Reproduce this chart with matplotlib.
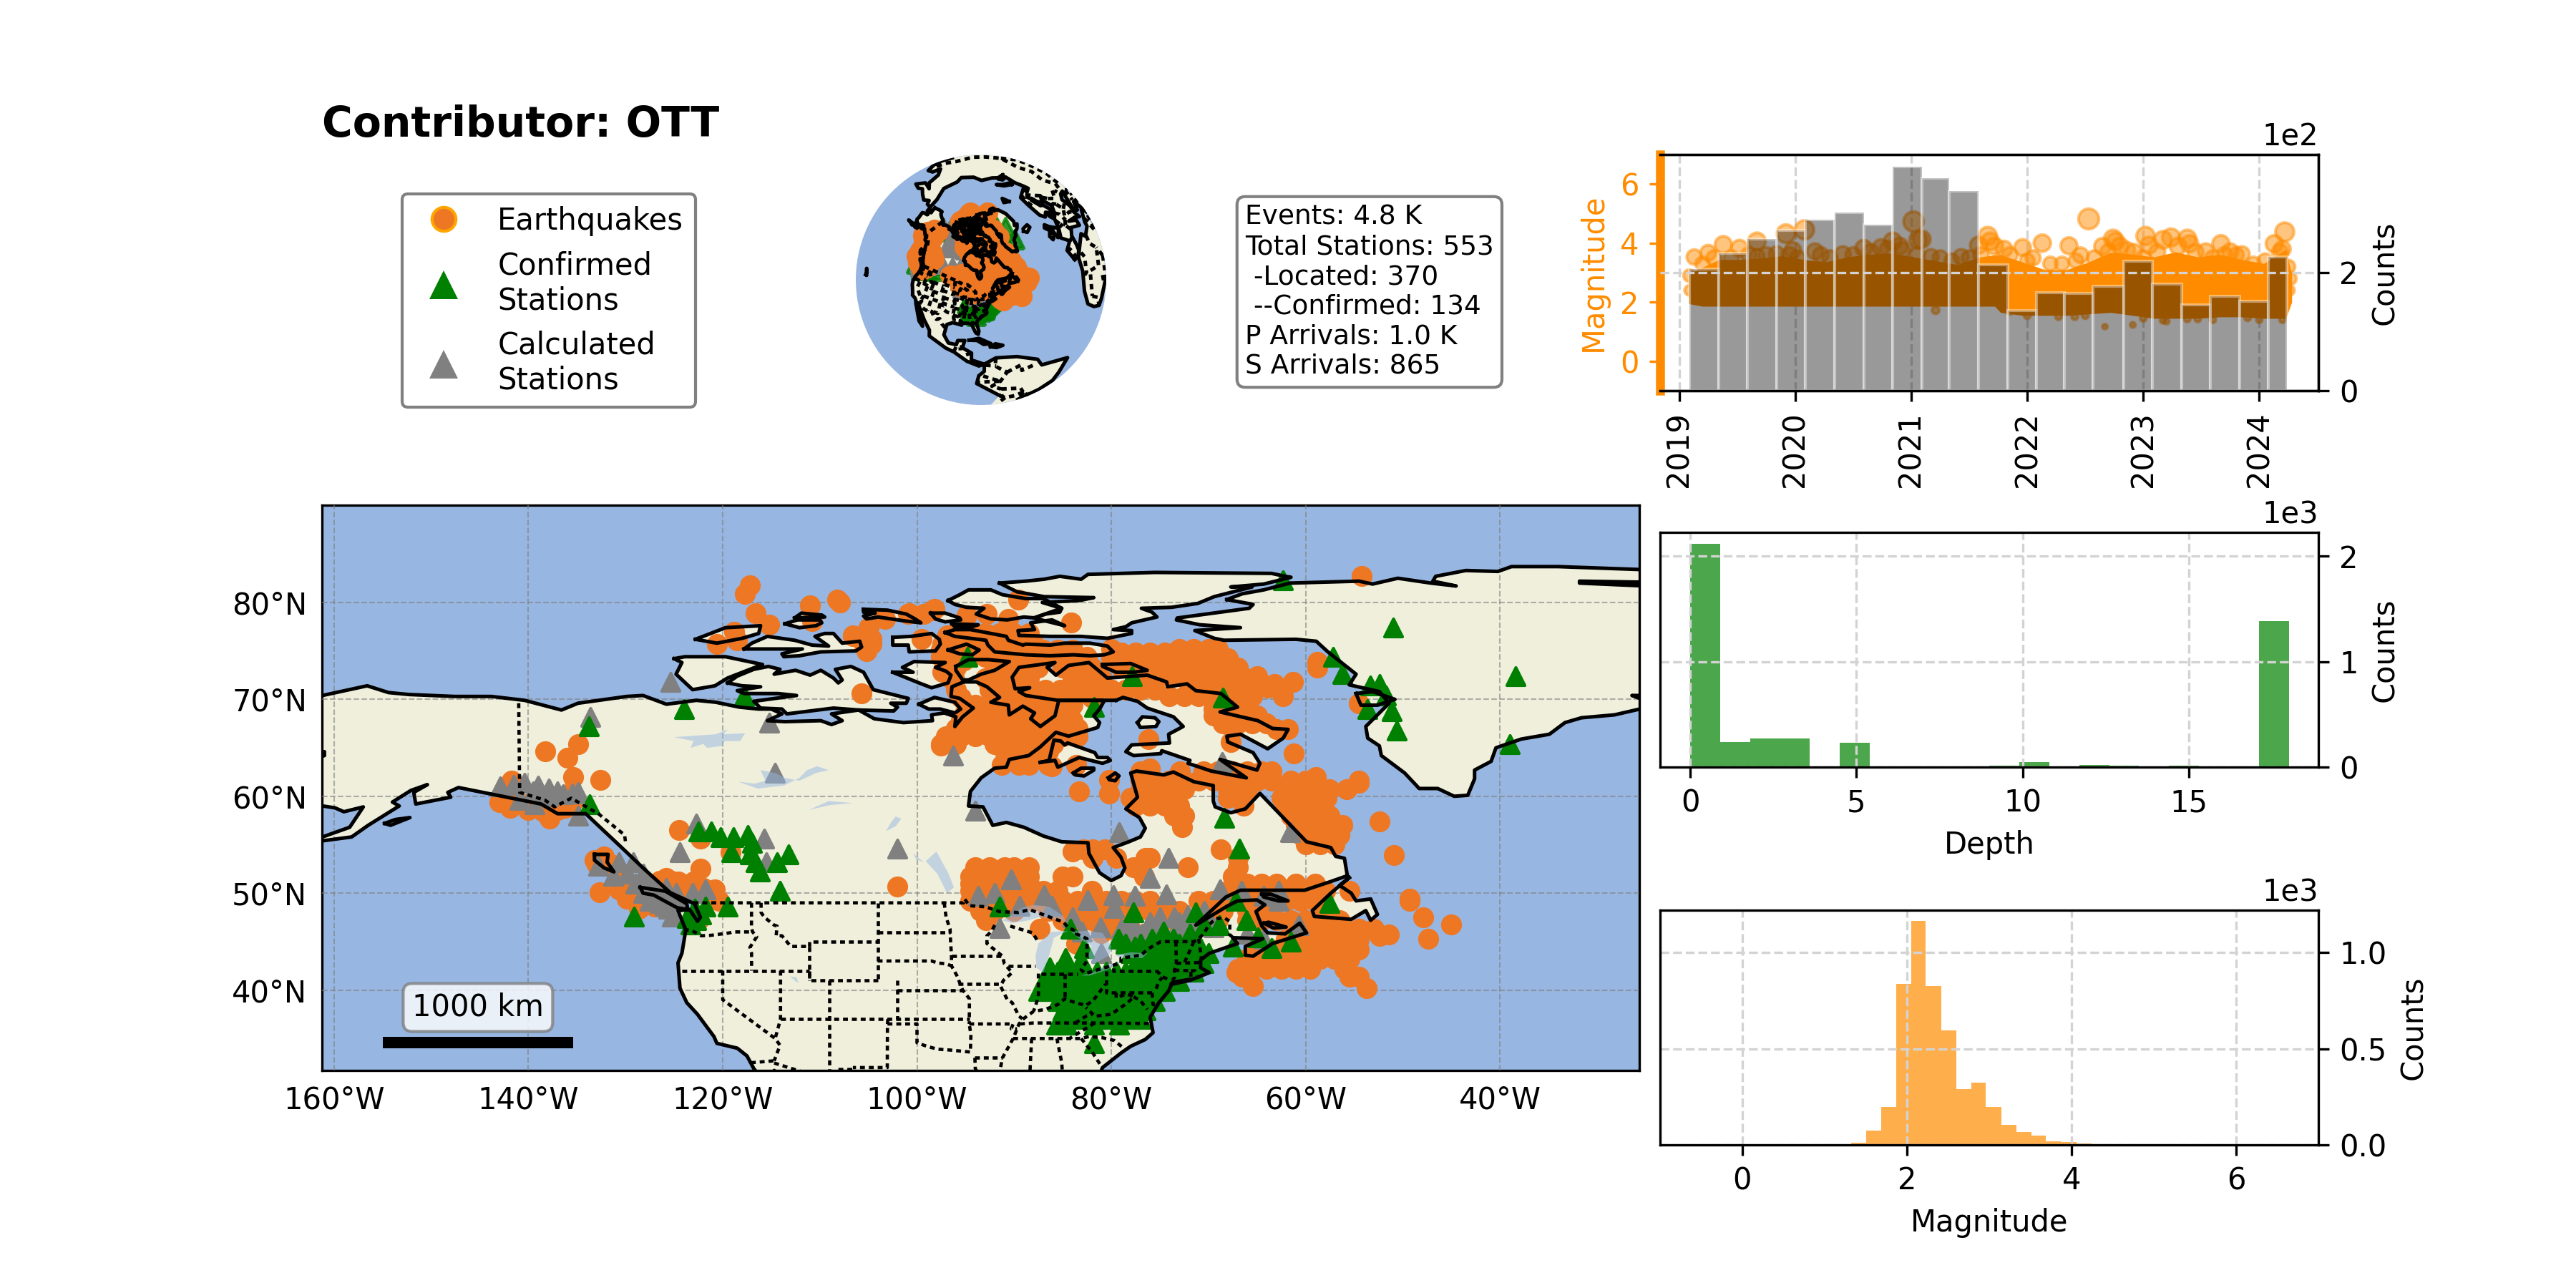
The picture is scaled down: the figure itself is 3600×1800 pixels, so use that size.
import numpy as np
import matplotlib
matplotlib.use("Agg")
import matplotlib.pyplot as plt
from matplotlib.lines import Line2D
from matplotlib.patches import Circle

# Colours
OCEAN = "#97b6e1"
LAND = "#efefdc"
QUAKE = "#ee7724"

# Coastlines as (lon, lat) rings
mainland = [(-166.8,68.4),(-161.2,70.4),(-156.6,71.4),(-154.4,70.7),(-152.3,70.5),(-147.6,70.3),(-143.8,70.3),
    (-140.4,69.9),(-136.6,68.9),(-134.9,69.6),(-129.9,70.3),(-128.2,70.4),(-125.8,69.5),(-122.7,69.9),(-120.7,69.7),
    (-118.3,69.2),(-116.3,69.0),(-115.0,69.0),(-113.9,68.5),(-115.4,67.8),(-113.6,67.7),(-109.9,67.8),(-108.8,67.4),
    (-107.7,67.8),(-108.8,68.5),(-106.0,68.9),(-104.4,68.0),(-101.4,67.6),(-98.4,67.8),(-98.5,68.4),(-97.2,68.6),
    (-96.0,68.2),(-96.1,67.2),(-95.3,68.2),(-94.2,69.1),(-95.6,70.1),(-96.5,70.3),(-96.4,71.3),(-95.2,71.8),
    (-93.9,71.8),(-92.8,71.3),(-91.5,70.2),(-92.4,69.7),(-90.6,69.4),(-90.5,68.4),(-89.1,69.3),(-87.9,68.6),
    (-88.3,68.0),(-87.3,67.2),(-85.8,68.3),(-85.4,69.9),(-83.4,69.9),(-80.7,69.9),(-81.2,69.0),(-81.8,68.3),
    (-81.2,67.6),(-81.4,67.1),(-84.4,66.2),(-85.7,66.6),(-87.3,65.1),(-88.5,64.2),(-90.5,63.8),(-90.8,63.0),
    (-92.0,62.9),(-93.4,61.9),(-94.5,60.5),(-94.7,59.0),(-93.2,58.9),(-92.2,57.0),(-90.8,57.3),(-89.0,56.8),
    (-87.0,55.9),(-85.1,55.3),(-82.4,55.2),(-82.3,54.1),(-81.2,52.1),(-80.0,51.3),(-79.0,51.8),(-78.6,52.6),
    (-79.0,53.7),(-79.8,54.7),(-78.2,55.3),(-77.0,55.8),(-76.5,56.7),(-77.1,57.8),(-78.5,58.7),(-77.3,59.9),
    (-78.0,62.4),(-77.4,62.6),(-74.6,62.2),(-73.6,62.5),(-71.5,61.5),(-69.5,61.1),(-69.5,59.5),(-69.3,58.9),
    (-67.7,58.3),(-66.2,58.7),(-64.7,60.3),(-59.9,55.3),(-57.4,54.7),(-56.9,53.8),(-56.0,53.6),(-55.7,51.8),
    (-57.4,51.2),(-60.1,50.3),(-66.7,50.3),(-68.2,49.6),(-71.3,46.7),(-68.0,48.7),(-67.0,49.2),(-65.0,49.3),
    (-64.2,48.8),(-65.1,48.1),(-64.5,46.6),(-63.9,45.9),(-62.1,45.8),(-60.6,46.9),(-59.9,45.9),(-63.4,44.8),
    (-65.4,43.5),(-66.2,43.6),(-66.2,44.5),(-64.4,45.3),(-67.5,45.4),(-67.0,44.8),(-69.9,43.8),(-70.8,43.1),
    (-70.8,42.3),(-69.9,41.8),(-71.9,41.0),(-73.8,40.6),(-74.1,39.9),(-75.1,38.7),(-76.0,37.2),(-75.7,35.6),
    (-76.5,34.9),(-78.0,34.2),(-79.0,33.5),(-80.9,32.0),(-81.4,30.7),(-80.1,26.8),(-80.4,25.2),(-81.7,25.9),
    (-82.8,27.9),(-84.0,30.0),(-86.0,30.4),(-89.5,30.0),(-89.2,29.1),(-94.0,29.6),(-97.0,28.0),(-97.7,22.5),
    (-95.0,18.8),(-91.0,18.7),(-90.5,21.0),(-87.0,21.5),(-88.0,17.5),(-83.5,15.0),(-83.5,11.0),(-79.5,9.5),
    (-77.5,8.6),(-80.0,7.5),(-85.5,10.0),(-92.0,14.5),(-96.0,15.7),(-105.0,19.5),(-105.5,22.5),(-109.5,26.5),
    (-112.8,30.0),(-114.7,31.7),(-112.0,27.0),(-109.5,23.0),(-112.0,24.7),(-115.0,29.5),(-116.8,31.9),(-117.5,33.2),
    (-118.5,34.0),(-120.6,34.5),(-120.9,35.2),(-122.6,37.5),(-123.7,38.7),(-124.4,40.2),(-124.6,42.8),(-124.2,43.8),
    (-123.8,46.2),(-124.6,48.2),(-123.4,48.3),(-122.6,47.1),(-122.3,47.5),(-122.9,48.9),(-125.4,50.05),(-128.2,52.6),
    (-130.5,54.8),(-132.2,56.4),(-134.1,58.2),(-137.0,58.2),(-138.7,59.2),(-141.7,59.8),(-147.2,60.9),(-148.3,60.4),
    (-148.0,59.9),(-151.6,59.2),(-151.8,60.4),(-150.4,61.2),(-152.1,60.6),(-154.0,59.4),(-153.3,59.0),(-156.5,57.0),
    (-158.2,55.8),(-159.7,55.6),(-161.2,55.4),(-164.5,54.6),(-161.2,55.8),(-158.4,56.8),(-157.0,58.9),(-159.0,58.4),
    (-159.9,58.8),(-161.2,59.0),(-162.0,60.0),(-165.0,61.5),(-166.0,62.0),(-164.5,63.0),(-161.0,64.2),(-161.0,64.6),
    (-166.0,64.6),(-168.0,65.6),(-164.0,66.5),(-161.5,66.3),(-163.5,67.0)]
greenland = [(-68.1,80.3),(-66.5,80.9),(-64.3,81.3),(-61.6,82.0),(-54.5,82.2),(-53.1,81.9),(-50.5,82.5),(-47.1,82.0),
    (-44.5,81.7),(-46.9,82.2),(-46.6,82.7),(-43.5,83.3),(-40.2,83.2),(-38.8,83.7),(-34.0,83.7),(-25.6,83.4),(-24.0,82.5),
    (-25.6,82.1),(-31.8,82.2),(-31.8,82.0),(-25.0,81.7),(-20.0,81.0),(-18.0,77.0),(-22.0,72.0),(-25.6,70.4),(-26.4,70.4),
    (-25.6,70.1),(-22.0,70.0),(-25.6,69.0),(-28.2,68.4),(-31.6,68.1),(-33.3,67.6),(-34.9,66.4),(-37.8,65.9),(-40.4,65.0),
    (-40.9,63.6),(-42.6,62.7),(-42.6,61.8),(-43.3,60.1),(-44.7,60.0),(-46.4,60.8),(-48.3,60.8),(-49.8,62.4),(-52.2,64.2),
    (-52.4,65.2),(-53.6,66.0),(-53.8,67.2),(-51.4,69.6),(-52.4,70.8),(-55.5,71.5),(-54.8,72.6),(-57.7,74.9),(-58.9,76.0),
    (-61.0,76.2),(-68.4,76.1),(-69.4,76.3),(-71.4,77.1),(-66.7,77.4),(-70.9,77.7),(-73.3,78.2),(-73.2,78.4),(-65.8,79.4),(-65.4,79.8)]
baffin = [(-79.5,69.9),(-78.8,70.2),(-77.3,69.8),(-76.3,69.1),(-73.6,68.2),(-72.6,67.2),(-74.1,66.4),(-74.0,65.5),(-77.9,65.3),
    (-78.5,64.6),(-77.7,64.2),(-74.9,64.4),(-74.8,64.7),(-71.9,63.7),(-72.1,63.4),(-69.7,62.6),(-66.1,61.9),(-68.8,63.8),
    (-65.0,62.7),(-64.7,63.4),(-65.4,64.5),(-68.0,65.6),(-68.1,66.2),(-66.7,66.4),(-63.9,64.9),(-62.3,66.0),(-61.8,66.9),
    (-63.4,67.0),(-64.9,67.8),(-68.8,68.7),(-67.0,69.2),(-68.7,70.6),(-71.3,70.9),(-72.2,71.6),(-74.2,71.3),(-74.3,71.8),
    (-76.3,72.5),(-80.4,72.2),(-82.3,73.8),(-84.4,73.5),(-85.7,72.5),(-86.6,73.3),(-85.8,73.8),(-89.5,73.3),(-90.2,72.3),
    (-89.9,71.1),(-88.4,71.2),(-89.5,70.8),(-88.8,70.4),(-85.5,69.9)]
ellesmere = [(-91.5,82.0),(-88.8,82.2),(-86.9,82.4),(-85.3,82.7),(-83.1,82.4),(-82.4,82.9),(-75.5,83.1),(-63.5,83.0),(-62.1,82.7),
    (-61.5,82.6),(-64.3,81.9),(-67.7,81.6),(-65.5,81.6),(-69.4,80.6),(-71.1,79.9),(-73.8,79.5),(-76.9,79.4),(-75.8,79.0),
    (-75.3,78.5),(-77.9,77.9),(-78.5,77.5),(-79.8,77.2),(-77.9,77.1),(-77.9,76.8),(-80.4,76.3),(-83.1,76.5),(-86.3,76.5),
    (-89.5,76.6),(-89.6,77.1),(-87.9,77.2),(-88.3,77.9),(-86.1,78.2),(-84.8,77.6),(-88.0,78.4),(-85.1,79.4),(-87.1,80.0),
    (-83.3,80.2),(-81.8,80.5),(-86.9,80.6),(-89.7,81.1)]
victoria = [(-119.5,71.7),(-118.5,72.4),(-116.8,73.1),(-115.3,73.4),(-114.1,73.1),(-114.7,72.6),(-112.5,73.0),(-111.0,72.5),
    (-109.9,73.0),(-108.6,72.2),(-108.1,71.7),(-107.7,72.0),(-108.4,73.1),(-106.8,73.4),(-105.5,72.8),(-104.5,71.0),
    (-100.9,70.1),(-101.1,69.6),(-102.7,69.6),(-102.0,69.2),(-102.4,68.8),(-106.0,68.9),(-108.6,69.1),(-113.4,68.5),
    (-113.9,69.0),(-116.1,69.1),(-116.8,69.8),(-112.4,70.4),(-114.3,70.6),(-117.8,70.6),(-118.5,70.9),(-116.1,71.3),(-118.0,71.4)]
banks = [(-125.0,74.2),(-123.9,74.4),(-119.7,74.4),(-115.9,73.6),(-119.5,72.2),(-120.8,71.4),(-123.1,71.0),(-124.8,72.6),(-124.2,73.8)]
melville = [(-117.8,75.2),(-117.0,75.8),(-115.4,76.5),(-112.6,76.1),(-110.8,75.6),(-109.1,75.5),(-110.5,76.5),(-109.5,76.8),
    (-108.6,76.8),(-107.7,75.8),(-105.9,76.0),(-105.7,75.4),(-106.3,75.0),(-109.9,74.9),(-112.1,74.5),(-113.7,74.4),
    (-113.9,74.7),(-111.8,75.2),(-117.0,75.2)]
prince_patrick = [(-122.8,76.2),(-119.7,77.4),(-116.1,77.6),(-116.3,76.8),(-118.0,76.3),(-120.6,75.8)]
mackenzie_king = [(-112.6,78.4),(-111.9,78.9),(-109.8,78.7),(-109.5,78.5)]
borden = [(-113.6,77.8),(-112.3,78.2),(-110.0,78.2),(-109.8,77.9),(-110.4,77.6),(-112.1,77.4)]
ellef = [(-105.5,79.3),(-103.0,79.2),(-101.1,78.8),(-100.2,78.3),(-99.6,77.9),(-101.3,78.1),(-104.0,78.5),(-105.2,78.3),
    (-105.5,78.6),(-104.3,78.9),(-105.5,79.0)]
meighen = [(-98.6,78.9),(-97.1,78.9),(-95.6,78.4),(-95.5,78.2),(-97.1,78.0),(-98.1,78.3)]
bathurst = [(-102.5,76.4),(-100.6,76.5),(-98.5,76.8),(-97.7,76.2),(-97.6,75.7),(-98.1,75.0),(-100.8,74.9),(-100.9,75.6),(-102.5,75.6)]
prince_wales = [(-102.5,72.8),(-100.4,72.8),(-101.5,73.3),(-100.3,73.9),(-97.1,73.8),(-98.1,73.3),(-97.0,72.9),(-96.5,72.5),
    (-96.8,71.7),(-98.5,71.2),(-99.8,71.7)]
king_william = [(-99.8,69.5),(-98.2,70.2),(-96.1,69.7),(-95.5,69.0),(-96.1,68.6),(-97.6,69.0),(-98.8,69.0)]
somerset = [(-96.0,73.4),(-94.7,74.1),(-92.7,74.1),(-90.5,73.9),(-92.0,73.0),(-93.4,72.6),(-94.7,72.0),(-95.3,72.0),(-96.0,73.0)]
russell = [(-96.8,75.1),(-94.9,75.7),(-93.6,75.1),(-94.3,74.6),(-95.6,74.7)]
devon = [(-97.1,76.9),(-96.1,77.2),(-94.5,77.2),(-90.8,76.5),(-90.6,76.1),(-89.1,75.6),(-88.8,75.7),(-86.3,75.6),(-84.8,75.8),
    (-82.2,75.8),(-80.4,75.5),(-79.8,74.9),(-80.7,74.6),(-82.2,74.5),(-83.9,74.6),(-86.3,74.5),(-88.8,74.6),(-92.0,74.9),
    (-92.7,75.6),(-92.9,76.1),(-96.1,76.5)]
axel_heiberg = [(-96.8,80.2),(-95.6,80.8),(-94.7,81.3),(-92.4,81.3),(-91.2,80.8),(-88.8,80.4),(-87.0,80.4),(-85.1,79.4),(-85.3,79.0),
    (-86.8,78.8),(-87.8,78.4),(-89.0,78.5),(-90.7,78.2),(-92.4,78.3),(-93.9,78.8),(-93.1,79.4),(-94.9,79.5),(-96.1,79.8)]
north_kent = [(-96.4,77.8),(-93.7,77.7),(-94.7,77.4),(-96.1,77.5)]
bylot = [(-80.9,73.6),(-78.0,73.7),(-76.3,73.0),(-77.7,72.8),(-79.5,72.8),(-80.9,73.4)]
southampton = [(-87.3,63.5),(-86.4,63.7),(-85.9,65.8),(-85.2,65.7),(-84.8,65.3),(-84.5,65.5),(-81.7,64.5),(-81.4,64.0),(-80.4,64.0),
    (-80.1,63.7),(-80.9,63.4),(-83.3,64.0),(-85.5,63.0),(-85.8,63.7)]
coats = [(-83.9,62.4),(-83.1,62.9),(-81.8,62.9),(-81.8,62.7),(-82.8,62.1),(-83.7,62.2)]
mansel = [(-80.3,61.9),(-79.6,62.4),(-79.2,62.1),(-79.6,61.6),(-80.2,61.7)]
prince_charles = [(-77.3,67.6),(-76.8,68.2),(-75.5,68.1),(-75.1,67.7),(-75.4,67.2),(-77.0,67.1)]
disko = [(-54.8,70.6),(-53.1,70.8),(-50.8,70.0),(-52.6,69.4),(-54.3,69.4)]
vancouver = [(-128.5,50.6),(-125.9,50.2),(-123.7,48.9),(-123.6,48.3),(-124.7,48.5),(-127.1,49.8),(-128.2,50.0)]
haida_gwaii = [(-133.2,54.0),(-131.8,54.0),(-131.9,53.2),(-131.2,52.2),(-132.2,52.6),(-133.2,53.4)]
kodiak = [(-154.8,57.2),(-153.7,57.6),(-152.2,57.8),(-154.2,57.0)]
newfoundland = [(-55.5,51.6),(-57.4,50.0),(-59.3,48.2),(-59.1,47.6),(-55.3,47.3),(-53.8,48.2),(-53.3,47.2),(-52.6,47.8),(-53.3,49.4),
    (-54.8,49.2),(-55.3,50.0),(-56.5,50.8)]
anticosti = [(-64.5,49.9),(-63.6,49.9),(-61.8,49.2),(-62.8,49.2),(-64.3,49.6)]
pei = [(-64.3,46.9),(-63.8,47.0),(-62.0,46.5),(-63.3,46.4)]
long_island = [(-73.8,40.6),(-71.9,41.1),(-73.7,40.8)]
south_america = [(-77.5,8.6),(-72,12),(-62,10.7),(-52,5),(-50,0),(-35,-6),(-39,-15),(-41,-22),(-48,-26),(-58,-35),(-65,-42),(-69,-52),
    (-74,-52),(-73,-40),(-70,-18),(-81,-5),(-80,1),(-77.5,4)]
africa = [(-6,35.5),(10,37),(11,33.5),(20,31),(22,32.5),(32,31),(34,28),(37,21),(43,11.5),(51,11.8),(40,-2),(39,-8),(40,-16),(35,-24),
    (28,-33),(19,-34.5),(12,-17),(13,-6),(9,4),(-4,5),(-8,4.4),(-13,9),(-17,14.7),(-16,22),(-10,29.5)]
eurasia = [(-9.5,37),(-9,43),(-1.5,43.5),(-4.5,48.5),(1.5,51),(8,54),(8.5,57),(10.5,57.7),(10,54),(14,54),(21,55),(24,59.5),(30,60),(22,60),
    (21.5,63),(25,65.5),(22,65.8),(17,61.5),(18.5,60),(16.5,56.5),(13,55.5),(11,59),(5.5,59),(5,62),(14,68),(25,71),(41,67),(34,66.5),(40,64.5),
    (44,66),(53,68.7),(68,69),(67,72),(73,72.8),(73,68),(75,72),(83,73.5),(100,76.5),(113,73.5),(130,71),(140,72.5),(160,69.7),(180,69),(-170,66),
    (-175,64.5),(-180,65),(178,62),(170,60),(163,58),(162,55),(156.7,51),(155.5,57),(163,62),(155,59.3),(143,59.3),(135,54.7),(141,53),(140,48),
    (132,43),(127,39.5),(129,36),(126,34.5),(126,37.5),(121,39),(118,38),(122,37),(120,34),(122,30),(119,25),(110,21),(106,19),(109,13),(105,9),
    (100,13),(104,2),(101,3),(98,8),(97,16),(92,21),(87,21.5),(80,15),(78,8),(73,17),(72,21),(67,25),(57,25),(50,30),(51,25),(56,24),(59,22),(52,16),
    (44,12.7),(39,21),(34.5,28),(35,36),(28,36.5),(26,40),(29,41),(41,41.5),(37,45),(31,46.5),(28,42),(24,40.5),(23,36.5),(19.5,41),(13,45.5),(18,40),
    (15.5,38),(9,44),(3,43),(0,39),(-2,36.8),(-5.5,36)]
cuba = [(-84.9,21.9),(-80,23.1),(-74.2,20.2),(-77.7,19.9),(-81,22)]
hispaniola = [(-74.4,18.5),(-72,19.9),(-68.4,18.6),(-71.5,17.8)]
iceland = [(-24,65.5),(-22,66.4),(-14.5,66),(-15,64.3),(-22,63.9)]
britain = [(-5.5,50),(1.5,51.2),(0,53.5),(-2,56),(-3,58.6),(-6,58),(-5,55),(-3,54),(-5,52)]
ireland = [(-10,52),(-6,52.2),(-6,55),(-10,54)]
svalbard = [(15,77),(24,80),(10,79.5)]
novaya_zemlya = [(52,71),(56,75),(68,77),(60,75),(56,71)]
hawaii = [(-155.9,19.2),(-155.0,19.7),(-155.9,20.2),(-156.4,20.9),(-157.9,21.5),(-155.9,20.0)]

north_america_rings = [mainland, greenland, baffin, ellesmere, victoria, banks, melville, prince_patrick, mackenzie_king, borden, ellef,
    meighen, bathurst, prince_wales, king_william, somerset, russell, devon, axel_heiberg, north_kent, bylot, southampton, coats, mansel,
    prince_charles, disko, vancouver, haida_gwaii, kodiak, newfoundland, anticosti, pei, long_island]
far_rings = [south_america, africa, eurasia, cuba, hispaniola, iceland, britain, ireland, svalbard, novaya_zemlya, hawaii]

# Large lakes
great_bear = [(-125,66.1),(-120.7,66.4),(-119.5,66.9),(-119.9,66.4),(-117.7,66.5),(-118.2,65.7),(-119.8,65.7),(-120.0,65.2),(-121.6,65.0),
    (-122.0,65.4),(-123.3,65.0),(-123.0,65.7)]
great_slave = [(-118.4,61.5),(-116.4,60.8),(-113.7,61.1),(-112.1,61.9),(-111.3,62.7),(-110.3,63.1),(-109.1,62.7),(-110.4,62.4),(-112.1,61.6),
    (-113.6,61.9),(-114.6,62.4),(-116.1,62.7),(-115.6,61.6),(-116.7,61.3)]
athabasca = [(-111.1,58.6),(-109.1,59.5),(-106.6,59.3),(-108.9,59.1)]
reindeer = [(-103.2,56.4),(-102.6,57.4),(-102.2,57.9),(-101.6,57.7),(-102.2,56.9)]
winnipeg = [(-99.1,53.3),(-98.0,54.3),(-96.8,52.1),(-96.2,50.6),(-96.9,50.0),(-97.9,52.0)]
manitoba = [(-100.4,54.1),(-99.3,53.2),(-100.1,53.5)]
great_salt = [(-113.1,41.4),(-112.4,41.3),(-112.2,40.7)]
superior = [(-91.2,47.2),(-89.1,48.5),(-88.0,48.8),(-86.4,48.6),(-85.0,47.7),(-84.7,47.1),(-86.4,47.4),(-87.5,47.5),(-88.5,47.2),(-90.2,46.9)]
michigan = [(-87.5,44.8),(-86.2,46.0),(-84.5,46.1),(-85.9,45.4),(-86.4,43.6),(-87.0,41.8),(-87.7,42.3),(-87.8,43.6)]
huron = [(-84.1,46.0),(-82.6,46.1),(-80.9,45.9),(-80.0,44.5),(-80.2,43.6),(-81.9,42.6),(-82.4,43.6),(-82.0,44.5),(-83.4,45.4)]
erie = [(-83.1,41.5),(-81.9,41.8),(-80.4,42.6),(-78.8,43.0),(-80.4,42.1),(-82.2,41.5)]
ontario = [(-79.6,43.6),(-78.0,43.9),(-76.3,43.8),(-76.8,43.3),(-79.0,43.3)]
lakes = [great_bear, great_slave, athabasca, reindeer, winnipeg, manitoba, great_salt, superior, michigan, huron, erie, ontario]

# Country and state boundaries
alaska_border = [(-141,69.6),(-140.9,60.4),(-138.3,59.6),(-137.3,58.9),(-135.6,59.8),(-132.8,58.2),(-130.1,56.0),(-130,55.2)]
canada_border = [(-123,49),(-95.2,49),(-95.1,49.4),(-94.6,48.7),(-93,48.6),(-91.5,48.1),(-89.6,48),(-88.4,48.3),(-84.9,47),(-84.5,46.5),(-83.5,46),
    (-83.6,45.8),(-82.5,45.3),(-82.5,43),(-83.1,42.1),(-82.7,41.7),(-79,42.8),(-79,43.3),(-76.9,43.6),(-76.3,44.2),(-74.9,45),(-71.5,45),(-71,45.3),
    (-70.4,45.9),(-70,46.7),(-69.2,47.4),(-68.3,47.4),(-67.8,47.1),(-67.8,45.7),(-67.1,45.1)]
mexico_border = [(-117.1,32.5),(-114.7,32.7),(-114.8,32.5),(-111,31.3),(-108.2,31.3),(-108.2,31.8),(-106.5,31.8),(-104.5,29.6),(-103,29),(-101.4,29.8),
    (-99.5,27.5),(-97.2,25.9)]
state_lines = [
    [(-124,46.25),(-123.2,46.15),(-122.2,45.6),(-121.2,45.65),(-119.3,45.9),(-118.98,46),(-116.92,46)],
    [(-117.03,49),(-117.04,46.4),(-116.92,46),(-116.5,45.5),(-117.2,44.4),(-117.03,43.8),(-117.03,42)],
    [(-116.05,49),(-116.05,48),(-115.7,47.5),(-114.7,46.7),(-114.4,46.6),(-114.5,45.6),(-113.9,45.6),(-113,44.5),(-111.05,44.5)],
    [(-111.05,44.5),(-111.05,45),(-104.05,45)],
    [(-111.05,44.5),(-111.05,41),(-104.05,41)],
    [(-104.05,49),(-104.05,41)],
    [(-104.05,45.94),(-96.56,45.94)],
    [(-104.05,43),(-98.5,43),(-97.9,42.8),(-97,42.7),(-96.45,42.5)],
    [(-102.05,41),(-102.05,37)],
    [(-102.05,40),(-95.3,40)],
    [(-114.05,37),(-94.62,37)],
    [(-103,37),(-103.04,36.5),(-103.06,32),(-106.6,32)],
    [(-103.04,36.5),(-100,36.5),(-100,34.56),(-99,34.2),(-97.9,33.9),(-96.5,33.8),(-94.5,33.6),(-94.45,35.4),(-94.62,36.5)],
    [(-109.05,41),(-109.05,31.3)],
    [(-111.05,42),(-111.05,41)],
    [(-114.05,42),(-114.05,37),(-114.6,35)],
    [(-120,42),(-120,39),(-114.6,35),(-114.1,34.3),(-114.7,32.7)],
    [(-124.2,42),(-111.05,42)],
    [(-97.2,49),(-97,47.5),(-96.6,46.3),(-96.56,45.4),(-96.45,43.5),(-96.45,42.5),(-95.9,41.5),(-95.3,40),(-94.6,39.1),(-94.62,36.5)],
    [(-96.45,43.5),(-91.2,43.5)],
    [(-95.8,40.6),(-91.4,40.6)],
    [(-92,46.7),(-92.3,46.1),(-92.8,45.6),(-92.8,44.8),(-91.2,43.5),(-91,42.7),(-90.2,41.8),(-91.1,41),(-91.4,40.4),(-90.7,39),(-90.2,38.7),(-89.5,37.3),
     (-89.1,37),(-89.5,36.5),(-90.1,35),(-91.2,33),(-91.6,31),(-89.7,31),(-89.6,30.2)],
    [(-94.62,36.5),(-90.1,36.5),(-90.3,36),(-89.7,36)],
    [(-94.04,33),(-91.2,33)],
    [(-94.04,33),(-94,31.9),(-93.5,31),(-93.8,29.7)],
    [(-90.6,42.5),(-87.8,42.5)],
    [(-90.4,46.6),(-88.1,45.9),(-87.6,45.1)],
    [(-87.5,41.7),(-87.5,39.3),(-88,37.8)],
    [(-84.8,41.7),(-84.8,39.1)],
    [(-87.2,41.7),(-83.5,41.7)],
    [(-89.1,37),(-88,37.8),(-86.8,38),(-85.5,38.5),(-84.8,39.1),(-84,38.8),(-82.6,38.4),(-81.8,39),(-80.6,40.6)],
    [(-80.52,42),(-80.52,39.72),(-75.8,39.72)],
    [(-79.76,42.27),(-79.76,42),(-75.35,42)],
    [(-79.5,39.72),(-79.5,39.2),(-78.4,39.6),(-77.7,39.3),(-78.3,38.7),(-80,37.5),(-81.7,37.3),(-82.6,38.2)],
    [(-77.7,39.3),(-77,38.9),(-76.3,38)],
    [(-89.4,36.5),(-88,36.6),(-83.7,36.6),(-81.7,36.6),(-75.9,36.55)],
    [(-83.7,36.6),(-82.6,37.3),(-81.97,37.5)],
    [(-81.7,36.6),(-84.3,35)],
    [(-90.1,35),(-84.3,35),(-83.1,35),(-82.3,35.2),(-81,35.1),(-79.7,34.8),(-78.6,33.9)],
    [(-83.1,35),(-81.9,33.5),(-81,32.1)],
    [(-85.6,35),(-85.1,32.5),(-85,31),(-82,30.4)],
    [(-88.2,35),(-88.4,31),(-88.4,30.3)],
    [(-73.35,45),(-73.3,42.75),(-73.5,42.05),(-73.5,41.3),(-73.7,41)],
    [(-71.5,45),(-72.5,42.75)],
    [(-73.3,42.75),(-70.8,42.85)],
    [(-73.5,42.05),(-71.8,42),(-71.8,41.3)],
    [(-71.8,42),(-71.4,42),(-71.2,41.5)],
    [(-71,45.3),(-70.7,43.1)],
    [(-75.35,42),(-74.7,41.35),(-75.1,40.9),(-75.5,39.8)],
    [(-74.7,41.35),(-73.9,41)],
    [(-75.8,39.72),(-75.7,38.5),(-75.05,38.45)],
]
world_borders = [
    [(-72,12),(-72.5,7),(-67,2),(-70,-4),(-74,-7.5),(-69.5,-11),(-69,-17),(-70,-18.3)],[(-67,2),(-60,5),(-60,1),(-54,2.2)],
    [(-69.5,-11),(-60,-14),(-58,-20),(-54.5,-25.5),(-53.5,-33.7)],[(-58,-20),(-62,-22),(-67,-22),(-70,-18)],[(-67,-22),(-70,-33),(-72,-50)],
    [(-58,-20),(-58,-27),(-54.5,-25.5)],[(-78,0.8),(-75,-1),(-70,-4),(-81,-4)],[(-77,8),(-72,7)],
    [(-1.8,43.4),(3,42.5)],[(-9,42),(-6.5,42),(-7,37.2)],[(2.5,51),(8,49),(7.5,44)],[(7,53.5),(6,50),(8,48)],[(14,54),(15,51),(12.5,47.5)],
    [(8,47.5),(16,48),(22,48),(24,52)],[(24,52),(23.5,54),(21,55)],[(28,56),(30,51.5),(40,49.7),(38,47)],[(22,48),(29,45.5)],[(19,46),(22,44),(23,41.5)],
    [(28,59.5),(28,56)],[(30,60),(30,69.5)],[(14,66),(20,69),(28,70)],[(24,66),(30,69.5)],
    [(48,46),(50,51),(61,51),(70,55),(87,49),(98,50),(107,50),(120,53),(127,50),(135,48),(131,43)],[(87,49),(80,42),(74,39),(61,36),(50,38)],
    [(48,42),(40,43)],[(44,37),(36,36.5)],[(44,37),(48,30)],[(36,32),(39,32),(46,29),(56,24)],[(61,36),(61,25)],[(74,39),(75,32),(70,25)],
    [(80,30),(88,27),(92,22)],[(98,28),(97,16)],[(108,22),(100,21),(105,15)],[(127,42),(130,43)],
    [(-2,35),(-2,32),(-8,27),(-13,27.5)],[(12,33),(9,30),(12,23),(4,19),(-5,25),(-12,15)],[(25,32),(25,20),(36,22)],[(25,20),(24,8),(15,13),(12,23)],
    [(4,12),(3,7)],[(-12,15),(-8,10),(-8,5)],[(15,13),(9,5)],[(34,9),(42,11)],[(24,8),(30,-1),(39,-4)],[(30,-1),(13,-5)],[(12,-17),(22,-18),(33,-17)],
    [(20,-28),(33,-25)],[(-92,14.5),(-91,17.8),(-89,17.9),(-88.9,15.9)],[(-83.7,15),(-87.5,13)],[(-83.6,11),(-82.5,9.3)],
]

# Earthquake epicentres
quake_lon = [-117.2,-117.7,-116.6,-115.2,-111.0,-110.8,-108.2,-107.9,-118.8,-118.5,-120.6,-105.7,-106.6,-105.0,-103.3,-104.7,-104.7,-105.2,
    -100.8,-99.3,-98.2,-99.5,-96.9,-97.1,-97.4,-94.9,-92.8,-90.6,-89.6,-92.4,-94.9,-89.1,-95.6,-93.7,-91.2,-89.3,-95.2,-97.4,-96.1,
    -84.1,-88.8,-80.0,-78.6,-61.3,-62.3,-63.9,-54.5,-61.2,-76.0,-76.2,-83.3,-80.2,-80.2,-83.6,-86.1,
    -67.1,-65.4,-53.7,-49.3,-47.9,-45.0,-47.4,-52.4,-51.4,-52.4,-50.9,-54.5,-58.9,-58.8,-58.8,-54.5,-54.2,
    -138.3,-134.9,-136.0,-135.4,-132.6,-141.7,-141.9,-138.5,-137.8,-136.6,-136.2,-124.5,-122.3,-119.2,-122.3,
    -133.2,-132.2,-132.7,-130.7,-129.9,-128.6,-129.4,-125.8,-124.6,-123.0,-120.8,-120.4,-122.5,-102.0,-97.5,-105.4,-106.6,-103.4,-100.9,-98.4,
    -72.7,-73.1,-77.4,-84.0,-83.6,-81.0]
quake_lat = [81.8,80.9,78.9,77.7,79.7,78.1,80.3,80.0,77.0,76.1,75.7,70.6,76.5,77.4,78.3,76.2,75.7,75.0,
    78.9,78.8,79.3,76.2,76.6,75.0,75.7,78.7,78.8,78.3,80.3,76.5,77.2,76.5,76.2,76.0,75.7,75.0,74.0,72.8,72.0,
    77.9,76.6,75.2,74.1,71.8,70.3,71.2,61.6,64.4,62.9,65.9,60.5,61.7,60.3,63.2,63.1,
    41.8,40.4,40.2,49.4,47.5,46.8,45.3,45.6,45.7,57.4,53.9,61.4,62.0,73.9,73.3,69.6,82.7,
    64.6,65.4,64.0,62.0,61.7,61.6,58.8,58.4,57.7,60.0,58.8,56.5,55.6,54.2,52.5,
    53.4,53.8,50.1,50.4,49.4,48.4,49.8,51.6,51.2,51.2,50.4,49.2,47.2,50.7,65.2,75.6,76.6,78.4,78.8,79.2,
    56.8,58.3,60.0,54.3,44.8,45.9]
# Dense parts of the catalogue, listed row by row as (lat, lons)
quake_rows = [
    (75.2,[-73.0,-71.5,-70.0,-69.0]),
    (74.8,[-79.0,-77.5,-76.0,-74.5,-73.0,-71.5,-70.0]),
    (74.2,[-80.0,-78.5,-77.0,-75.5,-74.0,-72.5,-71.0,-69.5,-68.0]),
    (73.3,[-79.0,-77.5,-76.0,-74.5,-73.0,-71.5,-70.0,-68.5,-67.0]),
    (72.4,[-77.0,-75.5,-74.0,-72.5,-71.0,-69.5,-68.0,-66.5,-65.0]),
    (71.6,[-72.0,-70.5,-69.0,-67.5,-66.0,-64.5,-63.2]),
    (71.0,[-80.0,-78.5,-77.0,-75.5]),
    (70.3,[-74.0,-72.5,-71.0,-69.5,-68.0,-66.5,-65.5]),
    (74.4,[-97.5,-96.0,-94.5,-93.0,-91.5,-90.0,-88.5,-87.0,-85.5,-84.0,-82.5]),
    (76.8,[-96.0,-94.5,-93.0,-91.5,-90.0,-88.5]),
    (75.8,[-97.0,-95.5,-94.0,-92.5,-91.0,-89.5,-88.0]),
    (75.1,[-97.5,-96.0,-94.5,-93.0,-91.5,-90.0,-88.5,-87.0,-85.5,-84.0]),
    (73.3,[-96.0,-92.0,-90.5,-89.0,-87.5,-85.0,-83.5,-82.0]),
    (72.2,[-96.5,-93.0,-91.5,-90.0,-88.5,-84.0,-82.5,-81.0]),
    (71.0,[-96.0,-92.5,-91.0,-89.5,-88.0,-86.8,-85.2,-84.0,-82.5,-81.5,-80.0]),
    (70.2,[-95.5,-90.0,-88.5,-87.0,-84.0,-82.0]),
    (69.4,[-94.0,-92.5,-91.0,-89.5,-88.0,-86.5,-85.2,-84.0]),
    (68.7,[-95.0,-93.5,-92.0,-90.5,-89.0,-87.5,-84.5]),
    (67.8,[-95.5,-94.0,-92.5,-91.0,-89.5,-87.5,-86.0,-84.0]),
    (67.0,[-96.0,-94.5,-93.0,-91.5,-90.0,-88.5,-87.0,-85.5,-83.5]),
    (66.2,[-97.0,-95.5,-94.0,-92.5,-91.0,-89.5,-88.0,-86.5,-85.0,-83.5]),
    (65.4,[-97.5,-96.0,-92.0,-90.5,-89.0,-87.5,-86.0]),
    (64.6,[-91.0,-89.5,-88.0,-86.5]),
    (63.8,[-90.0,-88.5,-87.0]),
    (63.2,[-91.3,-89.5,-88.5,-86.5]),
    (69.0,[-69.5,-68.0,-66.5]),
    (68.3,[-69.5,-68.0,-66.5,-65.0]),
    (67.5,[-68.5,-67.0,-65.5,-64.0]),
    (66.9,[-63.0,-61.8,-67.5]),
    (65.6,[-67.7]),
    (62.6,[-77.0,-72.9,-70.5,-69.0,-67.5,-66.0,-64.5,-63.5]),
    (61.6,[-77.0,-75.5,-74.0,-72.5,-71.0,-69.5,-68.2,-66.5,-65.0,-63.5,-61.5,-60.0,-58.9]),
    (60.7,[-77.0,-75.5,-74.0,-72.5,-68.0,-66.0,-62.0,-60.5,-59.2,-57.5,-55.8]),
    (59.8,[-78.0,-76.5,-75.0,-73.5,-68.0,-66.4,-62.5,-61.0,-59.5,-57.8]),
    (59.0,[-77.5,-76.0,-74.5,-73.0,-66.4,-62.0,-60.5,-59.0]),
    (58.0,[-73.5,-72.5,-61.5,-60.0,-58.5,-57.5]),
    (57.0,[-61.0,-59.5,-58.0,-57.0,-56.2]),
    (56.0,[-60.5,-59.0,-57.5,-56.5]),
    (55.0,[-60.0,-58.5,-57.0]),
    (54.5,[-82.9,-81.9,-80.7,-68.7]),
    (53.6,[-81.9,-79.5,-76.5,-76.0,-67.0]),
    (52.7,[-94.0,-92.5,-91.0,-90.0,-88.5,-77.7,-72.1,-67.0]),
    (51.7,[-94.5,-93.0,-91.5,-90.0,-88.5,-85.0,-84.0,-76.6,-67.5]),
    (51.0,[-94.5,-93.0,-91.5,-90.0,-88.5,-66.0,-64.5,-63.0,-61.0,-59.0]),
    (50.2,[-94.5,-93.0,-91.5,-90.0,-88.5,-87.0,-85.5,-82.0,-68.0,-66.5,-65.0,-63.5,-62.0,-60.5,-59.0,-58.0,-55.5]),
    (49.2,[-94.5,-93.0,-91.5,-90.0,-88.0,-86.5,-85.0,-83.5,-82.0,-80.5,-79.0,-77.5,-76.0,-71.0,-69.5,-68.0,-66.5,-65.0,-63.5,-62.0,-60.5,-59.0,-49.3]),
    (48.2,[-93.5,-92.0,-90.0,-86.5,-85.0,-83.5,-82.0,-80.5,-79.0,-77.5,-76.0,-74.5,-73.0,-70.0,-68.5,-66.0,-64.5]),
    (47.2,[-92.9,-85.0,-83.5,-82.0,-80.5,-79.0,-75.0,-73.5,-72.0,-70.5,-69.0,-66.0,-64.5,-63.0,-61.5,-60.0,-58.5,-57.0,-56.5]),
    (46.3,[-87.4,-80.0,-78.0,-60.5,-59.0,-57.5,-56.0,-54.5,-53.0]),
    (45.2,[-62.0,-60.5,-59.0,-57.5,-56.0,-54.5]),
    (44.2,[-65.0,-63.5,-62.0,-60.5,-59.0,-57.5,-56.0,-54.5]),
    (43.2,[-66.0,-64.5,-63.0,-61.5,-60.0,-58.5,-57.0,-55.5]),
    (42.2,[-67.0,-65.5,-64.0,-62.5,-61.0,-59.5,-56.0]),
    (41.4,[-66.5,-55.5,-54.5]),
    (53.0,[-133.0,-131.5]),
    (52.2,[-130.8]),
    (51.3,[-130.3,-126.5,-125.3]),
    (50.5,[-129.5,-127.5,-126.0,-124.0,-122.0]),
    (49.6,[-128.9,-121.0]),
    (48.6,[-128.4,-127.0]),
    (59.4,[-143.0,-141.0,-138.5,-135.5]),
    (58.6,[-140.0,-137.0]),
    (60.2,[-136.0]),
]

# Stations with confirmed locations
conf_lon = [-133.8,-124.0,-117.8,-133.7,-122.5,-121.2,-120.2,-118.9,-117.4,-117.0,-119.1,-117.2,-116.6,-116.2,-114.4,-113.2,-114.1,-129.1,
    -122.9,-121.8,-119.5,-123.3,-122.7,-123.7,-122.2,-62.3,-94.8,-77.9,-81.8,-68.5,-68.4,-66.8,-57.5,-51.0,-38.4,-39.0,-57.2,-56.2,-53.3,-52.4,
    -51.7,-53.6,-51.1,-50.6,-91.5,-77.7,-84.2,-67.2,-66.1,-64.9,-63.5,-61.5,-67.5,-68.9,-70.4,-71.3,-75.8,-74.6,-73.6,-71.9,-79.3,-77.6,
    -81.8,-84.7,-83.1,-86.3,-82.8]
conf_lat = [67.2,69.0,70.3,59.2,56.4,56.4,55.8,55.8,56.0,55.2,54.2,54.0,53.2,52.2,53.2,54.0,50.2,47.6,
    48.4,48.6,48.6,46.8,47.2,47.4,47.8,82.3,74.4,72.4,69.2,70.2,57.8,54.6,49.0,77.4,72.4,65.4,74.4,72.6,71.4,71.6,
    70.4,69.0,68.8,66.8,48.6,48.0,46.3,49.2,47.2,45.4,44.3,45.0,44.5,46.7,46.7,48.0,45.3,46.0,45.3,45.8,45.3,44.5,
    34.5,43.3,43.1,42.3,44.3]
# Dense network in the eastern states, (lat, lons)
conf_rows = [
    (44.8,[-78.5,-77.0,-76.0,-75.0,-74.0,-73.0,-72.0,-71.0]),
    (43.8,[-78.0,-77.0,-76.0,-75.0,-74.0,-73.0,-72.0,-71.0,-70.0]),
    (42.8,[-84.5,-83.0,-77.5,-76.5,-75.5,-74.5,-73.5,-72.5,-71.5,-70.5]),
    (41.9,[-86.5,-85.5,-84.5,-83.5,-82.5,-81.5,-80.5,-79.5,-78.5,-77.5,-76.5,-75.5,-74.5,-73.5,-72.5,-71.5]),
    (40.9,[-87.0,-86.0,-85.0,-84.0,-83.0,-82.0,-81.0,-80.0,-79.0,-78.0,-77.0,-76.0,-75.0,-74.0,-73.0]),
    (39.9,[-87.5,-86.5,-85.5,-84.5,-83.5,-82.5,-81.5,-80.5,-79.5,-78.5,-77.5,-76.5,-75.5,-74.5]),
    (38.9,[-85.5,-84.5,-83.5,-82.5,-81.5,-80.5,-79.5,-78.5,-77.5,-76.5,-75.5]),
    (37.9,[-85.0,-84.0,-83.0,-82.0,-80.5,-79.5,-78.5,-77.5,-76.5]),
    (37.0,[-85.0,-84.0,-83.0,-81.5,-80.0,-79.0,-78.0,-77.0]),
    (36.4,[-85.7,-84.6,-81.8,-79.2]),
]

# Stations with calculated locations
calc_lon = [-125.4,-133.6,-115.2,-114.6,-124.4,-102.0,-96.3,-122.7,-115.7,-115.5,-142.9,-140.4,-139.0,-137.9,-136.4,-134.9,-140.9,-139.4,-134.9,
    -132.8,-131.3,-130.7,-129.2,-128.2,-127.8,-127.5,-126.1,-125.6,-124.4,-123.1,-121.8,-125.2,-128.2,
    -93.7,-92.0,-90.3,-89.4,-86.9,-86.1,-91.5,-82.4,-79.8,-79.7,-77.6,-81.1,-79.0,-77.4,-75.9,-74.1,-76.0,-74.3,-72.1,-68.8,-66.6,-64.3,-62.8,
    -70.4,-60.7,-66.0,-81.0,-62.8,-76.8,-74.8,-64.3,-79.2,-61.6,-68.6,-94.0,-71.5,-69.5,-73.0,-75.0,-78.5,
    -78.0,-76.0,-75.0,-73.5,-72.5,-83.0,-84.0,-129.0,-127.0,-126.5,-125.8,-124.8,-126.0,-127.0,-129.8,-141.5,-138.0,-137.0,-135.5,-139.5]
calc_lat = [71.8,68.2,67.6,62.4,54.2,54.6,64.2,57.2,55.6,53.2,61.0,61.4,61.1,60.8,60.2,60.4,59.6,59.2,58.0,
    52.8,51.8,53.2,53.2,52.0,50.8,49.2,49.6,48.4,49.2,50.0,50.4,47.6,50.0,
    49.7,50.0,51.4,48.7,49.8,48.7,46.4,49.3,49.8,48.5,49.7,46.5,46.3,46.0,46.5,53.6,51.6,49.9,47.7,50.4,50.2,49.7,50.2,
    48.2,46.7,45.8,43.8,49.2,45.8,46.0,45.3,56.3,56.3,63.5,58.5,46.8,46.5,47.0,46.8,45.0,
    47.0,47.0,47.5,47.5,46.5,46.0,47.5,51.0,50.5,49.0,50.5,50.0,48.7,49.5,52.0,61.2,60.0,60.5,60.3,60.5]

# Scale bar
scale_lon = [-155.0, -135.4]
scale_lat = [34.6, 34.6]

# Time series: quarterly bins and the envelope of the dense part of the catalogue
count_edges = [2019.09,2019.34,2019.59,2019.84,2020.09,2020.34,2020.59,2020.84,2021.09,2021.33,2021.58,2021.83,2022.08,2022.32,2022.57,
    2022.83,2023.08,2023.33,2023.58,2023.83,2024.08,2024.24]
count_values = [206,232,256,271,289,301,280,379,359,337,213,135,166,164,177,219,180,145,160,151,226]
band_time = [2019.08,2019.20,2019.34,2019.51,2019.70,2019.89,2020.08,2020.26,2020.45,2020.64,2020.83,2021.02,2021.21,2021.40,2021.58,2021.72,2021.77,
    2021.96,2022.15,2022.34,2022.53,2022.72,2022.91,2023.09,2023.28,2023.47,2023.66,2023.85,2024.04,2024.23,2024.28]
band_high = [2.94,3.18,3.44,3.44,3.49,3.57,3.44,3.36,3.53,3.62,3.66,3.53,3.40,3.27,3.52,3.60,3.60,3.36,3.10,3.10,3.36,3.69,3.62,3.53,3.70,3.53,3.62,3.44,3.31,3.79,2.94]
band_low = [1.95,1.86,1.86,1.86,1.86,1.86,1.86,1.86,1.86,1.86,1.86,1.86,1.86,1.86,1.86,1.86,1.65,1.55,1.55,1.55,1.60,1.65,1.55,1.45,1.45,1.45,1.50,1.50,1.45,1.45,2.00]
event_time = [2019.13,2019.25,2019.38,2019.52,2019.67,2019.92,2020.08,2019.98,2019.67,2019.84,2020.17,2020.41,2020.59,2020.74,2020.84,2020.92,
    2021.02,2021.09,2021.06,2021.17,2021.43,2021.66,2021.68,2021.58,2021.80,2021.96,2022.13,2022.36,2022.46,2022.53,2022.65,2022.76,2022.74,2022.86,
    2023.02,2023.05,2023.17,2023.24,2023.38,2023.40,2023.54,2023.67,2023.75,2023.85,2024.13,2024.22,2024.20,
    2021.21,2022.67,2022.91,2022.27,2022.41,2023.17,2023.38,2023.47,2023.90,
    2019.20,2019.30,2019.45,2019.60,2019.75,2019.95,2020.02,2020.22,2020.30,2020.50,2020.65,2020.80,2020.90,2021.05,2021.25,2021.35,2021.50,2021.60,
    2021.72,2021.85,2022.00,2022.05,2022.20,2022.30,2022.42,2022.58,2022.70,2022.80,2022.92,2023.00,2023.12,2023.30,2023.45,2023.60,2023.70,2023.80,
    2023.95,2024.05,2024.18,2024.25,2019.09,2019.09,2024.26,2024.27,2021.85,2022.00,2022.50,2023.00,2023.20,2023.60,2024.00,2024.20]
event_mag = [3.53,3.67,3.95,3.83,4.06,4.32,4.45,3.76,3.54,3.63,3.72,3.63,3.83,3.85,4.06,3.76,
    4.73,4.13,4.11,3.54,3.54,4.24,4.06,3.93,3.80,3.85,4.00,3.91,3.59,4.82,3.89,4.06,4.15,3.76,
    4.24,3.93,4.11,4.19,4.15,3.98,3.72,3.98,3.72,3.63,3.98,4.38,3.80,
    1.73,1.17,1.23,1.51,1.51,1.38,1.43,1.43,1.47,
    3.30,3.50,3.50,3.60,3.60,3.60,3.50,3.60,3.50,3.60,3.70,3.80,3.90,3.60,3.50,3.40,3.50,3.60,
    3.90,3.60,3.40,3.50,3.30,3.30,3.40,3.50,3.70,3.90,3.70,3.50,3.70,3.90,3.70,3.50,3.60,3.60,
    3.30,3.40,3.70,3.20,2.40,2.90,2.40,2.80,1.70,1.55,1.55,1.45,1.35,1.40,1.40,1.40]
year_ticks = [2019, 2020, 2021, 2022, 2023, 2024]

# Histograms
depth_edges = [0.0,0.9,1.8,2.7,3.6,4.5,5.4,6.3,7.2,8.1,9.0,9.9,10.8,11.7,12.6,13.5,14.4,15.3,16.2,17.1,18.0]
depth_counts = [2117,239,272,272,0,232,0,0,0,0,16,50,0,22,16,0,16,8,8,1387]
mag_edges = [1.32,1.50,1.69,1.87,2.05,2.23,2.42,2.60,2.78,2.96,3.15,3.33,3.51,3.69,3.87,4.06,4.24]
mag_counts = [12,73,199,838,1165,827,597,292,325,199,106,66,47,17,14,6]

# Globe centre
globe_lon0 = -79.0
globe_lat0 = 51.0


def box(left, top, right, bottom):
    # axes rectangle from pixel edges, with y counted from the top
    return [left/3600, 1-bottom/1800, (right-left)/3600, (bottom-top)/1800]


def ortho(lon, lat):
    # orthographic projection; points behind the globe get visible=False
    lam = np.radians(np.asarray(lon, dtype=float)-globe_lon0)
    phi = np.radians(np.asarray(lat, dtype=float))
    phi0 = np.radians(globe_lat0)
    x = np.cos(phi)*np.sin(lam)
    y = np.cos(phi0)*np.sin(phi)-np.sin(phi0)*np.cos(phi)*np.cos(lam)
    visible = np.sin(phi0)*np.sin(phi)+np.cos(phi0)*np.cos(phi)*np.cos(lam) >= 0
    return x, y, visible


def ring_xy(ring, closed=True):
    pts = ring + ring[:1] if closed else ring
    return [p[0] for p in pts], [p[1] for p in pts]


def expand_rows(rows):
    lons, lats = [], []
    for lat, row in rows:
        lons += row
        lats += [lat]*len(row)
    return lons, lats


row_lon, row_lat = expand_rows(quake_rows)
all_quake_lon = quake_lon+row_lon
all_quake_lat = quake_lat+row_lat
row_lon, row_lat = expand_rows(conf_rows)
all_conf_lon = conf_lon+row_lon
all_conf_lat = conf_lat+row_lat

BORDER_DASH = (0, (1.5, 1.2))

fig = plt.figure(figsize=(12, 6), dpi=300)

# Main map in plate carree
ax_map = fig.add_axes(box(450, 706, 2291, 1496), facecolor=OCEAN)
ax_map.set_xlim(-161.25, -25.64)
ax_map.set_ylim(31.7, 90.04)
for ring in north_america_rings:
    lons, lats = ring_xy(ring)
    ax_map.fill(lons, lats, color=LAND, lw=0, zorder=1)
    ax_map.plot(lons, lats, color="k", lw=1.2, zorder=7)
ax_map.grid(color="gray", alpha=0.6, ls="--", lw=0.5)
ax_map.set_axisbelow(False)
for gl in ax_map.get_xgridlines()+ax_map.get_ygridlines():
    gl.set_zorder(1.5)
ax_map.scatter(all_quake_lon, all_quake_lat, s=36, color=QUAKE, lw=1, zorder=3)
ax_map.scatter(calc_lon, calc_lat, s=36, color="gray", marker="^", lw=1, zorder=4)
ax_map.scatter(all_conf_lon, all_conf_lat, s=36, color="green", marker="^", lw=1, zorder=5)
for ring in lakes:
    lons, lats = ring_xy(ring)
    ax_map.fill(lons, lats, color=OCEAN, alpha=0.5, lw=0, zorder=6)
for line in [alaska_border, canada_border, mexico_border]+state_lines:
    lons, lats = ring_xy(line, closed=False)
    ax_map.plot(lons, lats, color="k", lw=1.1, ls=BORDER_DASH, zorder=7)
ax_map.set_xticks([-160, -140, -120, -100, -80, -60, -40])
ax_map.set_xticklabels(["160°W", "140°W", "120°W", "100°W", "80°W", "60°W", "40°W"])
ax_map.set_yticks([40, 50, 60, 70, 80])
ax_map.set_yticklabels(["40°N", "50°N", "60°N", "70°N", "80°N"])
ax_map.tick_params(length=0, pad=5)
ax_map.plot(scale_lon, scale_lat, color="k", lw=3.84, solid_capstyle="butt", zorder=8)
ax_map.text(-145.2, 38.2, "1000 km", ha="center", va="center", fontsize=10, zorder=8,
            bbox=dict(boxstyle="round", facecolor="white", edgecolor="gray", alpha=0.8))

# Locator globe
ax_globe = fig.add_axes(box(1196, 216, 1546, 566))
ax_globe.set_xlim(-1, 1)
ax_globe.set_ylim(-1, 1)
ax_globe.axis("off")
disc = Circle((0, 0), 1, facecolor=OCEAN, edgecolor="none", transform=ax_globe.transData)
ax_globe.add_patch(disc)
for ring in north_america_rings+far_rings:
    lons, lats = ring_xy(ring)
    x, y, vis = ortho(lons, lats)
    # hidden vertices are pushed out to the limb so the fill stays closed
    norm = np.hypot(x, y)
    fx = np.where(vis, x, x/np.maximum(norm, 1e-6))
    fy = np.where(vis, y, y/np.maximum(norm, 1e-6))
    ax_globe.fill(fx, fy, color=LAND, lw=0, zorder=1, clip_path=disc)
    ax_globe.plot(np.where(vis, x, np.nan), np.where(vis, y, np.nan), color="k", lw=1.2, zorder=7, clip_path=disc)
x, y, vis = ortho(all_conf_lon, all_conf_lat)
ax_globe.scatter(x, y, s=36, color="green", marker="^", lw=1, alpha=0.8, zorder=3, clip_path=disc)
x, y, vis = ortho(calc_lon, calc_lat)
ax_globe.scatter(x, y, s=36, color="gray", marker="^", lw=1, zorder=4, clip_path=disc)
x, y, vis = ortho(all_quake_lon, all_quake_lat)
ax_globe.scatter(x, y, s=36, color=QUAKE, lw=1, zorder=5, clip_path=disc)
for line in [alaska_border, canada_border, mexico_border]+state_lines+world_borders:
    lons, lats = ring_xy(line, closed=False)
    x, y, vis = ortho(lons, lats)
    ax_globe.plot(np.where(vis, x, np.nan), np.where(vis, y, np.nan), color="k", lw=1.2, ls=BORDER_DASH, zorder=7, clip_path=disc)

# Title, legend and summary box
fig.text(450/3600, 1-174/1800, "Contributor: OTT", fontsize=14, fontweight="bold", ha="left", va="center")
handles = [Line2D([], [], ls="", marker="o", ms=8, mfc=QUAKE, mec="orange", mew=1),
           Line2D([], [], ls="", marker="^", ms=9.5, mfc="green", mec="green", mew=0),
           Line2D([], [], ls="", marker="^", ms=9.5, mfc="gray", mec="gray", mew=0)]
fig.legend(handles, ["Earthquakes", "Confirmed\nStations", "Calculated\nStations"], loc="upper left",
           bbox_to_anchor=(562/3600, 1-271/1800), borderaxespad=0, fontsize=10, edgecolor="gray", framealpha=1,
           labelspacing=0.5)
summary = "Events: 4.8 K\nTotal Stations: 553\n -Located: 370\n --Confirmed: 134\nP Arrivals: 1.0 K\nS Arrivals: 865"
fig.text(1740/3600, 1-408/1800, summary, fontsize=9, ha="left", va="center",
         bbox=dict(boxstyle="round", facecolor="white", edgecolor="gray"))

# Magnitude through time with counts per bin on the right
ax_time = fig.add_axes(box(2320, 216, 3240, 546))
ax_time.fill_between(band_time, band_low, band_high, color="darkorange", lw=0, zorder=2)
ax_time.scatter(event_time, event_mag, s=2*np.array(event_mag)**2, color="darkorange", alpha=0.5, zorder=3)
ax_time.set_xlim(2018.835, 2024.51)
ax_time.set_ylim(-1, 7)
ax_time.set_yticks([0, 2, 4, 6])
ax_time.set_xticks(year_ticks)
ax_time.set_xticklabels(year_ticks, rotation=90)
ax_time.grid(axis="x", color="lightgray", ls="--", lw=0.8)
ax_time.set_ylabel("Magnitude", color="darkorange", fontsize=10)
ax_time.tick_params(axis="y", colors="darkorange")
ax_time.spines["left"].set_color("darkorange")
ax_time.spines["left"].set_linewidth(3)
ax_counts = ax_time.twinx()
ax_counts.bar(count_edges[:-1], count_values, width=np.diff(count_edges), align="edge", color="k", alpha=0.4, edgecolor="white", lw=1)
ax_counts.set_ylim(0, 399)
ax_counts.set_yticks([0, 200])
ax_counts.ticklabel_format(axis="y", style="sci", scilimits=(0, 0))
ax_counts.grid(axis="y", color="lightgray", ls="--", lw=0.8)
ax_counts.set_ylabel("Counts", fontsize=10)
ax_counts.spines["left"].set_visible(False)

# Depth histogram
ax_depth = fig.add_axes(box(2320, 744, 3240, 1072))
ax_depth.bar(depth_edges[:-1], depth_counts, width=np.diff(depth_edges), align="edge", color="green", alpha=0.7)
ax_depth.set_xlim(-0.905, 18.89)
ax_depth.set_ylim(0, 2225)
ax_depth.set_xticks([0, 5, 10, 15])
ax_depth.set_yticks([0, 1000, 2000])
ax_depth.set_xlabel("Depth", fontsize=10)

# Magnitude histogram
ax_mag = fig.add_axes(box(2320, 1272, 3240, 1600))
ax_mag.bar(mag_edges[:-1], mag_counts, width=np.diff(mag_edges), align="edge", color="darkorange", alpha=0.7)
ax_mag.set_xlim(-1, 7)
ax_mag.set_ylim(0, 1221)
ax_mag.set_xticks([0, 2, 4, 6])
ax_mag.set_yticks([0, 500, 1000])
ax_mag.set_xlabel("Magnitude", fontsize=10)

for ax in [ax_depth, ax_mag]:
    ax.yaxis.tick_right()
    ax.yaxis.set_label_position("right")
    ax.ticklabel_format(axis="y", style="sci", scilimits=(0, 0))
    ax.grid(color="lightgray", ls="--", lw=0.8)
    ax.set_ylabel("Counts", fontsize=10)

fig.savefig("out.png", dpi=300)
